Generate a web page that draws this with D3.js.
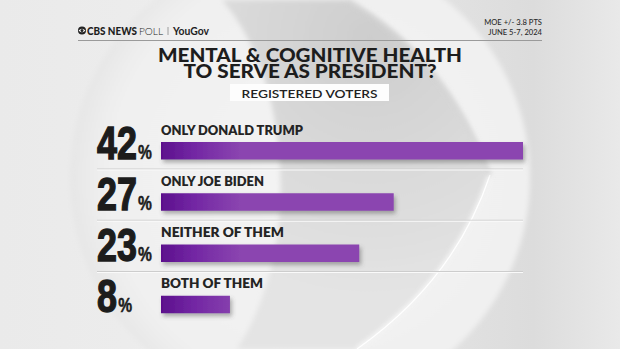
<!DOCTYPE html>
<html><head><meta charset="utf-8">
<script src="https://cdn.jsdelivr.net/npm/d3@7"></script>
<style>html,body{margin:0;padding:0;overflow:hidden;background:#ebebeb}</style>
</head><body>
<svg id="chart" width="620" height="349"></svg>
<script>
// Poll answers and shares (%)
const categories = ["ONLY DONALD TRUMP", "ONLY JOE BIDEN", "NEITHER OF THEM", "BOTH OF THEM"];
const values = [42, 27, 23, 8];
const titleLines = ["MENTAL & COGNITIVE HEALTH", "TO SERVE AS PRESIDENT?"];
const subtitle = "REGISTERED VOTERS";
const notes = ["MOE +/- 3.8 PTS", "JUNE 5-7, 2024"];

const W = 620, H = 349;
const svg = d3.select("#chart");
const defs = svg.append("defs");

const geo = "Lato, 'Open Sans', 'DejaVu Sans', sans-serif";
const heavyNum = "'Liberation Sans', Arial, 'DejaVu Sans', sans-serif";

// ---------- background ----------
const soft = defs.append("filter").attr("id", "soft").attr("x", "-10%").attr("y", "-10%").attr("width", "120%").attr("height", "120%");
soft.append("feGaussianBlur").attr("stdDeviation", 2.5);

const bgGrad = defs.append("linearGradient").attr("id", "bgGrad").attr("x1", 0).attr("x2", 1).attr("y1", 0).attr("y2", 0);
bgGrad.append("stop").attr("offset", "0%").attr("stop-color", "#eaeaea");
bgGrad.append("stop").attr("offset", "40%").attr("stop-color", "#eeeeee");
bgGrad.append("stop").attr("offset", "86%").attr("stop-color", "#dcdcdc");
bgGrad.append("stop").attr("offset", "100%").attr("stop-color", "#e9e9e9");

const circGrad = defs.append("radialGradient").attr("id", "circGrad").attr("cx", "0.55").attr("cy", "0.5").attr("r", "0.55");
circGrad.append("stop").attr("offset", "0%").attr("stop-color", "#f4f4f4");
circGrad.append("stop").attr("offset", "85%").attr("stop-color", "#f0f0f0");
circGrad.append("stop").attr("offset", "100%").attr("stop-color", "#e6e6e6");

const lensGrad = defs.append("radialGradient").attr("id", "lensGrad").attr("gradientUnits", "userSpaceOnUse")
  .attr("cx", 370).attr("cy", 40).attr("r", 260);
lensGrad.append("stop").attr("offset", "0%").attr("stop-color", "#cdcdcd");
lensGrad.append("stop").attr("offset", "45%").attr("stop-color", "#d8d8d8");
lensGrad.append("stop").attr("offset", "100%").attr("stop-color", "#e4e4e4");

const bg = svg.append("g");
bg.append("rect").attr("width", W).attr("height", H).attr("fill", "url(#bgGrad)");
bg.append("circle").attr("cx", 300).attr("cy", 178).attr("r", 230).attr("fill", "url(#circGrad)").attr("filter", "url(#soft)");
bg.append("path")
  .attr("d", "M222,0 C292,80 302,250 237,349 L357,349 Q455,280 490,175 Q445,55 347,0 Z")
  .attr("fill", "url(#lensGrad)").attr("filter", "url(#soft)");
bg.append("path")
  .attr("d", "M357,349 Q455,280 490,175")
  .attr("fill", "none").attr("stroke", "#fbfbfb").attr("stroke-width", 3).attr("filter", "url(#soft)");
bg.append("path")
  .attr("d", "M357,349 Q455,280 490,175")
  .attr("fill", "none").attr("stroke", "#ffffff").attr("stroke-width", 1.2);
bg.append("path")
  .attr("d", "M490,175 Q445,55 347,0")
  .attr("fill", "none").attr("stroke", "#c6c6c6").attr("stroke-width", 2).attr("filter", "url(#soft)");

// ---------- header ----------
const head = svg.append("g");
// small CBS eye mark
head.append("circle").attr("cx", 82).attr("cy", 30.5).attr("r", 4).attr("fill", "#222");
head.append("path").attr("d", "M78.6,30.5 Q82,26.8 85.4,30.5 Q82,34.2 78.6,30.5 Z").attr("fill", "#fff");
head.append("circle").attr("cx", 82).attr("cy", 30.5).attr("r", 1.5).attr("fill", "#222");

head.append("text").attr("x", 87).attr("y", 34.5).attr("font-family", geo).attr("font-size", 10.5)
  .attr("font-weight", 900).attr("fill", "#1e1e1e")
  .attr("textLength", 50).attr("lengthAdjust", "spacingAndGlyphs").text("CBS NEWS");
head.append("text").attr("x", 139).attr("y", 34.5).attr("font-family", geo).attr("font-size", 10.5)
  .attr("font-weight", 300).attr("fill", "#1e1e1e")
  .attr("textLength", 24).attr("lengthAdjust", "spacingAndGlyphs").text("POLL");
head.append("line").attr("x1", 168).attr("x2", 168).attr("y1", 27).attr("y2", 35).attr("stroke", "#888").attr("stroke-width", 0.8);
head.append("text").attr("x", 173).attr("y", 34.5).attr("font-family", geo).attr("font-size", 10.5)
  .attr("font-weight", 700).attr("fill", "#1e1e1e")
  .attr("textLength", 36).attr("lengthAdjust", "spacingAndGlyphs").text("YouGov");

const noteText = head.append("text").attr("text-anchor", "end").attr("font-family", geo)
  .attr("font-size", 7.6).attr("font-weight", 500).attr("fill", "#2a2a2a");
noteText.selectAll("tspan").data(notes).join("tspan")
  .attr("x", 542).attr("y", (d, i) => 25.4 + i * 9.2).text(d => d);

head.append("line").attr("x1", 78).attr("x2", 542).attr("y1", 40.5).attr("y2", 40.5).attr("stroke", "#9a9a9a").attr("stroke-width", 1);

// ---------- title ----------
const titleW = [304, 253];
const title = svg.append("text").attr("text-anchor", "middle").attr("font-family", geo)
  .attr("font-weight", 900).attr("font-size", 19).attr("fill", "#1d1d1d");
title.selectAll("tspan").data(titleLines).join("tspan")
  .attr("x", 310).attr("y", (d, i) => 61.5 + i * 16)
  .attr("textLength", (d, i) => titleW[i]).attr("lengthAdjust", "spacingAndGlyphs")
  .text(d => d);

svg.append("rect").attr("x", 230).attr("y", 84).attr("width", 159).attr("height", 17).attr("fill", "#fdfdfd");
svg.append("text").attr("x", 309.5).attr("y", 97.5).attr("text-anchor", "middle")
  .attr("font-family", geo).attr("font-weight", 600).attr("font-size", 12).attr("fill", "#222")
  .attr("textLength", 136).attr("lengthAdjust", "spacingAndGlyphs").text(subtitle);

// ---------- bars ----------
const x = d3.scaleLinear().domain([0, d3.max(values)]).range([161, 523]);
const y = d3.scaleBand().domain(categories).range([121, 326]);
const labelW = [142, 103, 123, 102];

const barGrad = defs.append("linearGradient").attr("id", "barGrad").attr("gradientUnits", "userSpaceOnUse")
  .attr("x1", x(0)).attr("x2", x(0) + 80).attr("y1", 0).attr("y2", 0);
barGrad.append("stop").attr("offset", "0%").attr("stop-color", "#5c108c");
barGrad.append("stop").attr("offset", "40%").attr("stop-color", "#7226a3");
barGrad.append("stop").attr("offset", "100%").attr("stop-color", "#8b45b0");

const shadow = defs.append("filter").attr("id", "barShadow").attr("x", "-5%").attr("y", "-30%").attr("width", "115%").attr("height", "190%");
shadow.append("feDropShadow").attr("dx", 2).attr("dy", 3).attr("stdDeviation", 2).attr("flood-color", "#555").attr("flood-opacity", 0.45);

const rows = svg.append("g").selectAll("g").data(categories).join("g")
  .attr("transform", d => `translate(0,${y(d)})`);

// separators between rows
rows.filter((d, i) => i < categories.length - 1).each(function () {
  const g = d3.select(this);
  g.append("line").attr("x1", 97).attr("x2", 523).attr("y1", 48).attr("y2", 48).attr("stroke", "#cdcdcd").attr("stroke-width", 1);
  g.append("line").attr("x1", 97).attr("x2", 523).attr("y1", 49).attr("y2", 49).attr("stroke", "#fafafa").attr("stroke-width", 1);
});

rows.append("rect")
  .attr("x", x(0)).attr("y", 21).attr("height", 17.5)
  .attr("width", (d, i) => x(values[i]) - x(0))
  .attr("fill", "url(#barGrad)").attr("filter", "url(#barShadow)");

rows.append("text").attr("x", 161).attr("y", 13.5)
  .attr("font-family", geo).attr("font-weight", 800).attr("font-size", 12.5)
  .attr("fill", "#242424")
  .attr("textLength", (d, i) => labelW[i]).attr("lengthAdjust", "spacingAndGlyphs")
  .text(d => d);

// big condensed percentages: bold type squeezed horizontally
const sx = 0.78;
rows.each(function (d, i) {
  const g = d3.select(this).append("g").attr("transform", `translate(97,37.5) scale(${sx},1)`);
  const num = g.append("text").attr("x", 0).attr("y", 0)
    .attr("font-family", heavyNum).attr("font-weight", 700).attr("font-size", 46)
    .attr("fill", "#1c1c1c").attr("stroke", "#1c1c1c").attr("stroke-width", 1.4).text(values[i]);
  const w = num.node().getComputedTextLength();
  g.append("text").attr("x", w + 1.5).attr("y", 0)
    .attr("font-family", heavyNum).attr("font-weight", 700).attr("font-size", 20)
    .attr("fill", "#1c1c1c").attr("stroke", "#1c1c1c").attr("stroke-width", 0.5).text("%");
});
</script>
</body></html>
